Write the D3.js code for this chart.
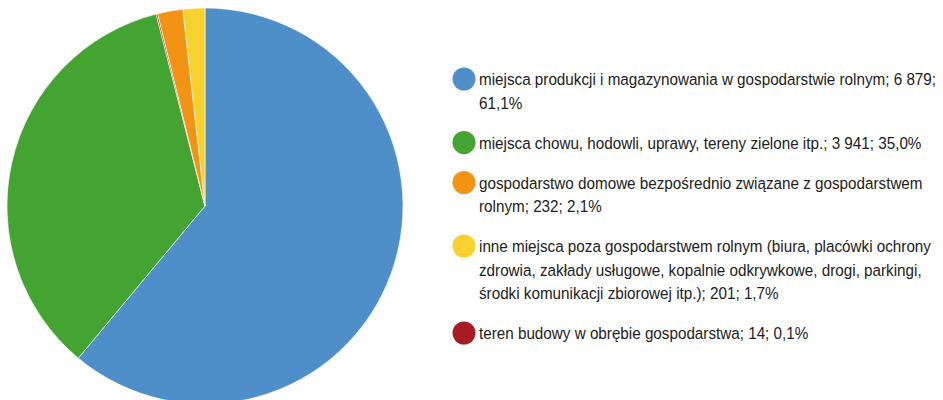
<!DOCTYPE html>
<html>
<head>
<meta charset="utf-8">
<script src="https://cdn.jsdelivr.net/npm/d3@7"></script>
<style>
  body { margin: 0; background: #fff; }
  text { font-family: "Liberation Sans Narrow", "Arial Narrow", "Liberation Sans", sans-serif; font-size: 17px; fill: #222; }
</style>
</head>
<body>
<svg width="943" height="400"></svg>
<script>
// pie order (clockwise from top)
const sliceNames = ["produkcja", "chow", "budowa", "domowe", "inne"];
const sliceValues = [6879, 3941, 14, 232, 201];
const sliceColors = ["#4f8fc9", "#44a432", "#a81b22", "#f39313", "#f7d12e"];

// legend order + wrapped label lines
const legendNames = ["produkcja", "chow", "domowe", "inne", "budowa"];
const legendLines = [
  ["miejsca produkcji i magazynowania w gospodarstwie rolnym; 6 879;", "61,1%"],
  ["miejsca chowu, hodowli, uprawy, tereny zielone itp.; 3 941; 35,0%"],
  ["gospodarstwo domowe bezpośrednio związane z gospodarstwem", "rolnym; 232; 2,1%"],
  ["inne miejsca poza gospodarstwem rolnym (biura, placówki ochrony", "zdrowia, zakłady usługowe, kopalnie odkrywkowe, drogi, parkingi,", "środki komunikacji zbiorowej itp.); 201; 1,7%"],
  ["teren budowy w obrębie gospodarstwa; 14; 0,1%"]
];

const svg = d3.select("svg");

const color = d3.scaleOrdinal().domain(sliceNames).range(sliceColors);

const pie = d3.pie().sort(null).value(d => d.value);
const arc = d3.arc().innerRadius(0).outerRadius(198);

const data = sliceNames.map((n, i) => ({name: n, value: sliceValues[i]}));

const g = svg.append("g").attr("transform", "translate(205,206)");
g.selectAll("path")
  .data(pie(data))
  .enter().append("path")
  .attr("d", arc)
  .attr("fill", d => color(d.data.name))
  .attr("stroke", "#fff")
  .attr("stroke-width", 0.6);

// legend (text squeezed horizontally to mimic the narrow font)
const lineH = 23.5, gap = 40;
let y = 79;
const legend = svg.append("g");
legendNames.forEach((n, i) => {
  legend.append("circle").attr("cx", 464).attr("cy", y).attr("r", 11.5).attr("fill", color(n));
  const t = legend.append("g").attr("transform", `translate(479,${y}) scale(0.897,1)`)
    .append("text");
  legendLines[i].forEach((line, j) => {
    t.append("tspan").attr("x", 0).attr("y", j * lineH).attr("dy", "0.36em").text(line);
  });
  y += (legendLines[i].length - 1) * lineH + gap;
});
</script>
</body>
</html>
